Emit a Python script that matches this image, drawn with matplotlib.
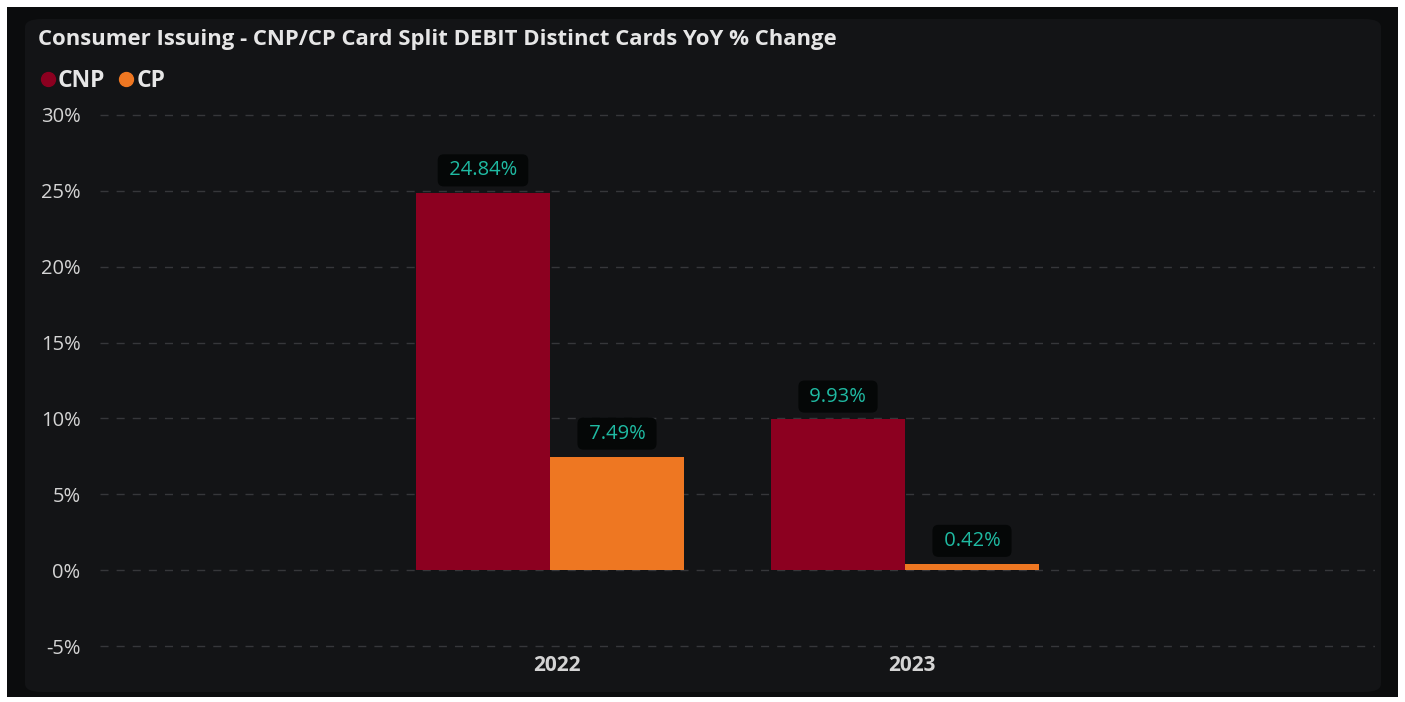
import matplotlib.pyplot as plt
import matplotlib.transforms as mtransforms
import numpy as np
from matplotlib.patches import FancyBboxPatch, Rectangle
from matplotlib.lines import Line2D

# Données
annees = ["2022", "2023"]
cnp = [24.84, 9.93]
cp = [7.49, 0.42]
graduations = [-5, 0, 5, 10, 15, 20, 25, 30]

COULEUR_CNP = "#8c0020"
COULEUR_CP = "#ee7722"
COULEUR_ETIQ = "#1fbaa2"
COULEUR_TEXTE = "#d4d4d4"
FOND_PANNEAU = "#131416"

plt.rcParams["font.family"] = ["Open Sans", "DejaVu Sans"]

W, H = 1405, 702
fig = plt.figure(figsize=(W / 100, H / 100), dpi=100, facecolor="white")

# Fond noir et panneau arrondi
fig.patches.append(Rectangle((7 / W, 5 / H), 1391 / W, 690 / H, transform=fig.transFigure,
                             facecolor="#0b0c0d", edgecolor="none", zorder=-3))
fig.patches.append(FancyBboxPatch((25 / W, 10 / H), 1356 / W, 673 / H, transform=fig.transFigure,
                                  boxstyle="round,pad=0,rounding_size=0.012",
                                  facecolor=FOND_PANNEAU, edgecolor="none", zorder=-2))

# Axes
px_unite = (646 - 115) / 35
bas = 646 + 0.3 * px_unite
haut = 115 - 0.3 * px_unite
ax = fig.add_axes([100 / W, (H - bas) / H, 1275 / W, (bas - haut) / H])
ax.set_facecolor("none")

x = np.arange(len(annees))
largeur = 134 / 355
gauche = (100 - 550) / 355
droite = (1375 - 550) / 355

b1 = ax.bar(x - largeur / 2, cnp, largeur, color=COULEUR_CNP, zorder=3)
b2 = ax.bar(x + largeur / 2, cp, largeur, color=COULEUR_CP, zorder=3)

# Étiquettes de valeur dans des cartouches noirs
for barres, valeurs in [(b1, cnp), (b2, cp)]:
    for barre, v in zip(barres, valeurs):
        ax.annotate(f" {v:.2f}% ", (barre.get_x() + barre.get_width() / 2, v),
                    xytext=(0, 16.5), textcoords="offset points", ha="center", va="center",
                    color=COULEUR_ETIQ, fontsize=14.5, zorder=5,
                    bbox=dict(boxstyle="round,pad=0.3,rounding_size=0.3", fc="#050707", ec="none"))

ax.set_xlim(gauche, droite)
ax.set_ylim(-5.3, 30.3)
ax.set_yticks(graduations)
ax.set_yticklabels([f"{g}%" for g in graduations])
ax.set_xticks(x)
ax.set_xticklabels(annees, fontweight="bold")
ax.tick_params(axis="both", length=0, colors=COULEUR_TEXTE)
ax.tick_params(axis="y", pad=14, labelsize=14.5)
ax.tick_params(axis="x", pad=3, labelsize=15)
decalage = mtransforms.ScaledTranslation(7 / 100, 0, fig.dpi_scale_trans)
for lbl in ax.get_xticklabels():
    lbl.set_transform(lbl.get_transform() + decalage)
ax.grid(axis="y", color="#36373a", linestyle=(0, (5.8, 5.8)), linewidth=1, zorder=0)
for s in ax.spines.values():
    s.set_visible(False)

# Titre et légende
fig.text(38 / W, 1 - 39 / H, "Consumer Issuing - CNP/CP Card Split DEBIT Distinct Cards YoY % Change",
         color="#e6e6e6", fontsize=15.9, fontweight="bold", va="center", ha="left")
poignees = [Line2D([], [], marker="o", linestyle="none", markersize=10, color=COULEUR_CNP),
            Line2D([], [], marker="o", linestyle="none", markersize=10, color=COULEUR_CP)]
fig.legend(poignees, ["CNP", "CP"], loc="center left", bbox_to_anchor=(20 / W, 1 - 81 / H),
           ncol=2, frameon=False, handlelength=0.6, handletextpad=0.15, columnspacing=0.6,
           prop={"weight": "bold", "size": 16.5}, labelcolor="#e6e6e6")

fig.savefig("out.png", dpi=100, facecolor="white")
